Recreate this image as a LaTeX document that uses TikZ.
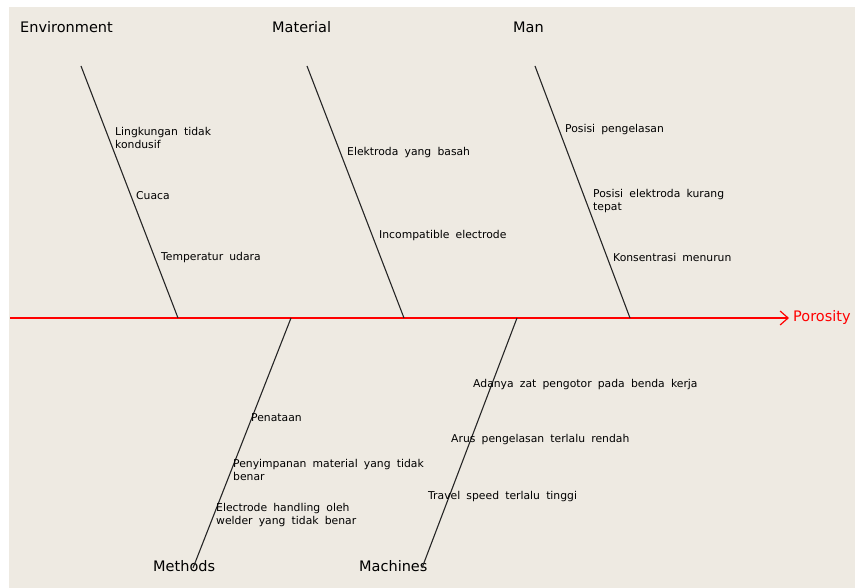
\documentclass[tikz,border=0pt]{standalone}
\usepackage{fontspec}
\usetikzlibrary{arrows.meta}
\newfontfamily\headfont{DejaVu Sans}
\newfontfamily\bonefont[WordSpace=1.8]{DejaVu Sans}
\definecolor{bgcol}{RGB}{238,234,226}
\definecolor{spinered}{RGB}{255,0,0}
\tikzset{
  head/.style={font=\headfont\fontsize{14.5}{16}\selectfont, anchor=west, inner sep=0pt},
  cause/.style={font=\bonefont\fontsize{10.8}{13}\selectfont, anchor=west, inner sep=0pt, align=left, yshift=-1.5pt},
  bone/.style={draw=black!85, line width=1.1pt},
  spine/.style={draw=spinered, line width=1.2pt}
}
\begin{document}
\begin{tikzpicture}[x=1pt,y=-1pt]
\useasboundingbox (0,0) rectangle (855,588);
\fill[bgcol] (9,7) rectangle (855,588);

% headings
\node[head] (env) at (20,27) {Environment};
\node[head] (mat) at (272,27) {Material};
\node[head] (man) at (513,27) {Man};
\node[head] (meth) at (153,566) {Methods};
\node[head] (mach) at (359,566) {Machines};
\node[head, text=spinered] (poro) at (793,318) {Porosity};

% spine
\coordinate (sp0) at (10,318);
\draw[spine, -{Straight Barb[length=8pt,width=14pt]}] (sp0) -- ([xshift=-4pt]poro.west);

% bone coordinates
\coordinate (envA) at (81,66);   \coordinate (envB) at (178,318);
\coordinate (matA) at (307,66);  \coordinate (matB) at (404,318);
\coordinate (manA) at (535,66);  \coordinate (manB) at (630,318);
\coordinate (metA) at (291,318); \coordinate (metB) at (193,568);
\coordinate (macA) at (517,318); \coordinate (macB) at (422,568);

\draw[bone] (envA) -- (envB);
\draw[bone] (matA) -- (matB);
\draw[bone] (manA) -- (manB);
\draw[bone] (metA) -- (metB);
\draw[bone] (macA) -- (macB);

% causes
\node[cause] (e1) at (115,136.5) {Lingkungan tidak\\kondusif};
\node[cause] (e2) at (136,194) {Cuaca};
\node[cause] (e3) at (161,256) {Temperatur udara};

\node[cause] (m1) at (347,151) {Elektroda yang basah};
\node[cause] (m2) at (379,234) {Incompatible electrode};

\node[cause] (n1) at (565,128) {Posisi pengelasan};
\node[cause] (n2) at (593,200) {Posisi elektroda kurang\\tepat};
\node[cause] (n3) at (613,256) {Konsentrasi menurun};

\node[cause] (t1) at (251,416) {Penataan};
\node[cause] (t2) at (233,468.5) {Penyimpanan material yang tidak\\benar};
\node[cause] (t3) at (216,513.5) {Electrode handling oleh\\welder yang tidak benar};

\node[cause] (c1) at (473,383) {Adanya zat pengotor pada benda kerja};
\node[cause] (c2) at (451,438) {Arus pengelasan terlalu rendah};
\node[cause] (c3) at (428,495) {Travel speed terlalu tinggi};
\end{tikzpicture}
\end{document}
